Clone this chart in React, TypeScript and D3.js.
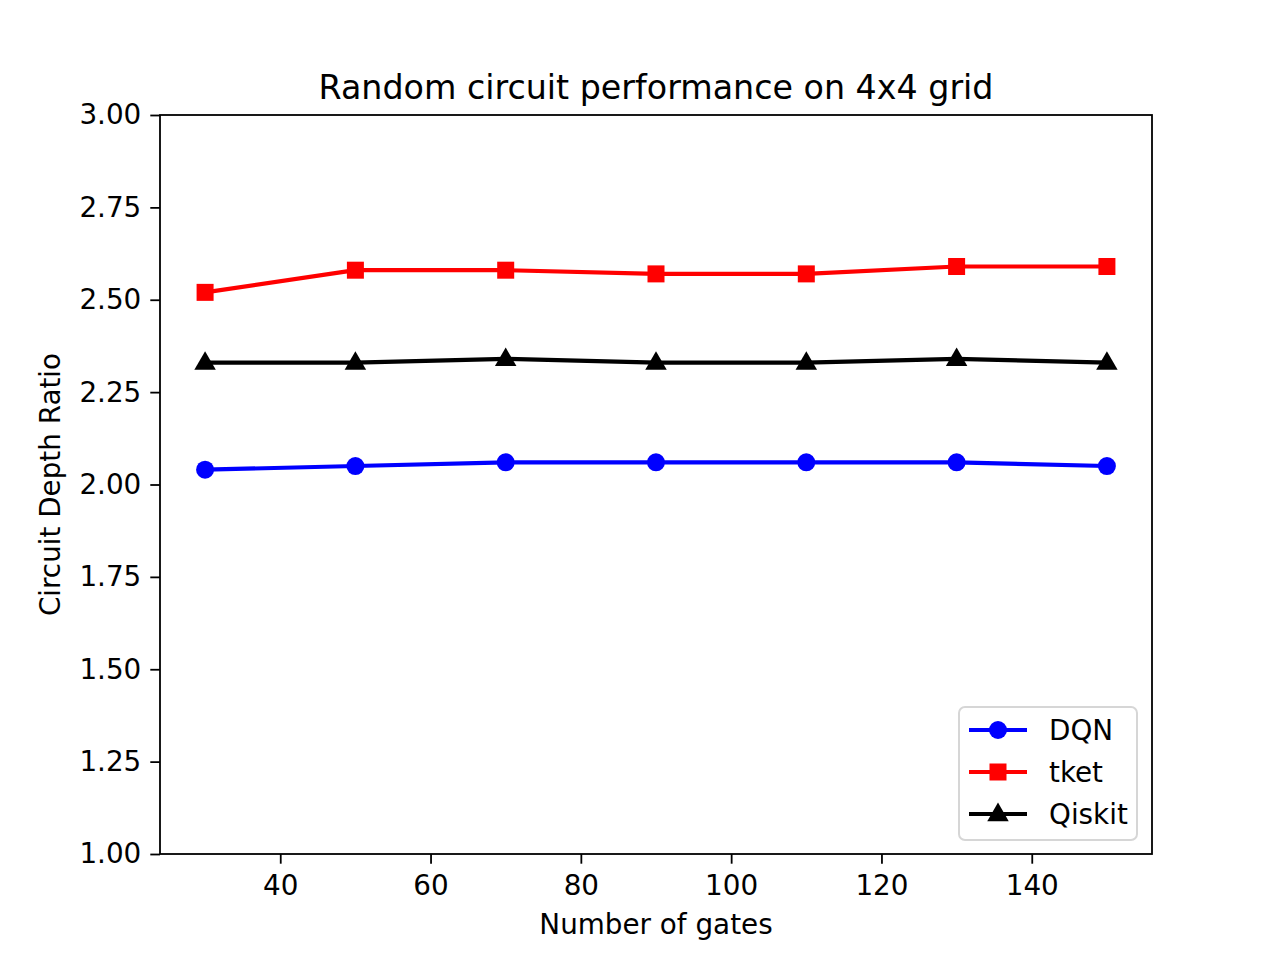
import React, { useEffect, useRef } from 'react';
import * as d3 from 'd3';

// Data
const gates = [30, 50, 70, 90, 110, 130, 150];
const dqn = [2.04, 2.05, 2.06, 2.06, 2.06, 2.06, 2.05];
const tket = [2.52, 2.58, 2.58, 2.57, 2.57, 2.59, 2.59];
const qiskit = [2.33, 2.33, 2.34, 2.33, 2.33, 2.34, 2.33];
const xTicks = [40, 60, 80, 100, 120, 140];
const yTicks = [1.0, 1.25, 1.5, 1.75, 2.0, 2.25, 2.5, 2.75, 3.0];

const series = [
  { name: 'DQN', values: dqn, color: '#0000ff', marker: 'circle' },
  { name: 'tket', values: tket, color: '#ff0000', marker: 'square' },
  { name: 'Qiskit', values: qiskit, color: '#000000', marker: 'triangle' },
];

const WIDTH = 1280;
const HEIGHT = 960;
const FONT = '"DejaVu Sans", sans-serif';

const App: React.FC = () => {
  const ref = useRef<SVGSVGElement | null>(null);

  useEffect(() => {
    if (!ref.current) return;
    const svg = d3.select(ref.current);
    svg.selectAll('*').remove();

    const margin = { top: 115, right: 128, bottom: 106, left: 160 };
    const innerW = WIDTH - margin.left - margin.right;
    const innerH = HEIGHT - margin.top - margin.bottom;

    svg.append('rect').attr('width', WIDTH).attr('height', HEIGHT).attr('fill', 'white');

    const g = svg.append('g').attr('transform', `translate(${margin.left},${margin.top})`);

    const x = d3.scaleLinear().domain([24, 156]).range([0, innerW]);
    const y = d3.scaleLinear().domain([1, 3]).range([innerH, 0]);

    // Axes
    const xAxis = g.append('g')
      .attr('transform', `translate(0,${innerH})`)
      .call(d3.axisBottom(x).tickValues(xTicks).tickSize(9.7).tickPadding(12).tickFormat(d3.format('d')));
    const yAxis = g.append('g')
      .call(d3.axisLeft(y).tickValues(yTicks).tickSize(9.7).tickPadding(9).tickFormat(d3.format('.2f')));

    [xAxis, yAxis].forEach(ax => {
      ax.select('.domain').remove();
      ax.selectAll('line').attr('stroke', '#000').attr('stroke-width', 1.8);
      ax.selectAll('text')
        .style('font-family', FONT)
        .style('font-size', '27.8px')
        .attr('fill', '#000');
    });

    // Lines and markers
    const line = d3.line<number>()
      .x((_, i) => x(gates[i]))
      .y(d => y(d));

    const sq = 17;
    const triangle = d3.symbol().type(d3.symbolTriangle).size(200);

    series.forEach(s => {
      g.append('path')
        .datum(s.values)
        .attr('fill', 'none')
        .attr('stroke', s.color)
        .attr('stroke-width', 4.2)
        .attr('stroke-linejoin', 'round')
        .attr('d', line);

      const pts = g.append('g');
      s.values.forEach((v, i) => {
        const cx = x(gates[i]);
        const cy = y(v);
        if (s.marker === 'circle') {
          pts.append('circle').attr('cx', cx).attr('cy', cy).attr('r', 9).attr('fill', s.color);
        } else if (s.marker === 'square') {
          pts.append('rect').attr('x', cx - sq / 2).attr('y', cy - sq / 2)
            .attr('width', sq).attr('height', sq).attr('fill', s.color);
        } else {
          pts.append('path').attr('d', triangle).attr('transform', `translate(${cx},${cy + 1})`)
            .attr('fill', s.color);
        }
      });
    });

    // Frame
    g.append('rect')
      .attr('width', innerW).attr('height', innerH)
      .attr('fill', 'none').attr('stroke', '#000').attr('stroke-width', 1.8);

    // Title and labels
    svg.append('text')
      .attr('x', margin.left + innerW / 2).attr('y', 99)
      .attr('text-anchor', 'middle')
      .style('font-family', FONT).style('font-size', '33.3px')
      .text('Random circuit performance on 4x4 grid');

    svg.append('text')
      .attr('x', margin.left + innerW / 2).attr('y', 934)
      .attr('text-anchor', 'middle')
      .style('font-family', FONT).style('font-size', '27.8px')
      .text('Number of gates');

    svg.append('text')
      .attr('transform', `translate(60,${margin.top + innerH / 2}) rotate(-90)`)
      .attr('text-anchor', 'middle')
      .style('font-family', FONT).style('font-size', '27.8px')
      .text('Circuit Depth Ratio');

    // Legend
    const lg = svg.append('g').attr('transform', 'translate(959,707)');
    lg.append('rect')
      .attr('width', 178).attr('height', 133).attr('rx', 6)
      .attr('fill', 'white').attr('fill-opacity', 0.8)
      .attr('stroke', '#d6d6d6').attr('stroke-width', 2);

    series.forEach((s, i) => {
      const ry = 23 + i * 42;
      const row = lg.append('g').attr('transform', `translate(0,${ry})`);
      row.append('line').attr('x1', 10).attr('x2', 68).attr('y1', 0).attr('y2', 0)
        .attr('stroke', s.color).attr('stroke-width', 4.2);
      if (s.marker === 'circle') {
        row.append('circle').attr('cx', 39).attr('cy', 0).attr('r', 9).attr('fill', s.color);
      } else if (s.marker === 'square') {
        row.append('rect').attr('x', 39 - sq / 2).attr('y', -sq / 2)
          .attr('width', sq).attr('height', sq).attr('fill', s.color);
      } else {
        row.append('path').attr('d', triangle).attr('transform', 'translate(39,1)').attr('fill', s.color);
      }
      row.append('text')
        .attr('x', 90).attr('y', 10)
        .style('font-family', FONT).style('font-size', '27.8px')
        .text(s.name);
    });
  }, []);

  return (
    <div style={{ position: 'absolute', left: 0, top: 0 }}>
      <svg ref={ref} width={WIDTH} height={HEIGHT}></svg>
    </div>
  );
};

export default App;
